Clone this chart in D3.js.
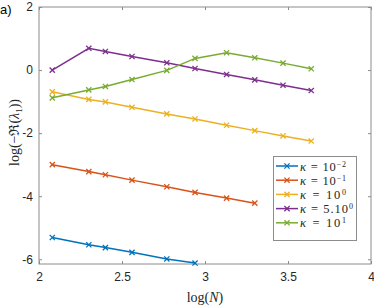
<!DOCTYPE html>
<html>
<head>
<meta charset="utf-8">
<script src="https://cdn.jsdelivr.net/npm/d3@7"></script>
<style>
  body { margin: 0; background: #fff; }
  svg { display: block; }
  .tick text { font-family: "Liberation Sans", Arial, sans-serif; font-size: 12px; fill: #262626; }
  .math { font-family: "Liberation Serif", "DejaVu Serif", serif; fill: #262626; }
</style>
</head>
<body>
<svg id="chart" width="374" height="306"></svg>
<script>
// log(N) sample points
const logN = [2.08, 2.30, 2.40, 2.56, 2.77, 2.94, 3.13, 3.30, 3.47, 3.64]

const kappa1e2 = [-5.31, -5.54, -5.63, -5.78, -5.99, -6.12]
const kappa1e1 = [-3.00, -3.22, -3.32, -3.49, -3.70, -3.88, -4.06, -4.22]
const kappa1e0 = [-0.69, -0.93, -1.01, -1.18, -1.39, -1.55, -1.75, -1.92, -2.09, -2.25]
const kappa5e0 = [0.00, 0.69, 0.59, 0.43, 0.23, 0.05, -0.14, -0.31, -0.48, -0.65]
const kappa1e1b = [-0.88, -0.63, -0.52, -0.30, -0.01, 0.37, 0.55, 0.39, 0.22, 0.04]

const legendBase = ['10', '10', '10', '5.10', '10']
const legendExp = ['−2', '−1', '0', '0', '1']
const colors = ['#0072BD', '#D95319', '#EDB120', '#7E2F8E', '#77AC30']

const xTicks = [2, 2.5, 3, 3.5, 4]
const yTicks = [-6, -4, -2, 0, 2]

const series = [kappa1e2, kappa1e1, kappa1e0, kappa5e0, kappa1e1b].map((vals, i) => ({
  color: colors[i],
  base: legendBase[i],
  exp: legendExp[i],
  points: vals.map((v, j) => [logN[j], v])
}))

const margin = { left: 39, right: 3, top: 7, bottom: 42 }
const width = 374, height = 306
const svg = d3.select('#chart')

const x = d3.scaleLinear().domain([2, 4]).range([margin.left, width - margin.right])
const y = d3.scaleLinear().domain([-6.15, 2]).range([height - margin.bottom, margin.top])

const axisColor = '#8c8c8c'

// tick marks (inward, on all four sides) and labels
svg.append('g')
  .attr('transform', `translate(0,${y(-6.15)})`)
  .call(d3.axisBottom(x).tickValues(xTicks).tickFormat(d3.format('')).tickSizeInner(-3).tickSizeOuter(0).tickPadding(8))
svg.append('g')
  .attr('transform', `translate(${x(2)},0)`)
  .call(d3.axisLeft(y).tickValues(yTicks).tickFormat(d => d < 0 ? '-' + Math.abs(d) : d).tickSizeInner(-3).tickSizeOuter(0).tickPadding(6))
svg.append('g')
  .attr('transform', `translate(0,${y(2)})`)
  .call(d3.axisTop(x).tickValues(xTicks).tickFormat('').tickSizeInner(-3).tickSizeOuter(0))
svg.append('g')
  .attr('transform', `translate(${x(4)},0)`)
  .call(d3.axisRight(y).tickValues(yTicks).tickFormat('').tickSizeInner(-3).tickSizeOuter(0))

svg.selectAll('.domain').remove()
svg.selectAll('.tick line').attr('stroke', axisColor)

// box
svg.append('rect')
  .attr('x', x(2)).attr('y', y(2))
  .attr('width', x(4) - x(2)).attr('height', y(-6.15) - y(2))
  .attr('fill', 'none').attr('stroke', axisColor).attr('stroke-width', 1)

const line = d3.line().x(d => x(d[0])).y(d => y(d[1]))

function cross (g, cx, cy, color) {
  const s = 2.6
  g.append('path')
    .attr('d', `M${cx - s},${cy - s}L${cx + s},${cy + s}M${cx - s},${cy + s}L${cx + s},${cy - s}`)
    .attr('stroke', color).attr('stroke-width', 1.3)
}

series.forEach(s => {
  const g = svg.append('g')
  g.append('path')
    .datum(s.points)
    .attr('d', line)
    .attr('fill', 'none')
    .attr('stroke', s.color)
    .attr('stroke-width', 1.5)
  s.points.forEach(p => cross(g, x(p[0]), y(p[1]), s.color))
})

// legend
const lg = svg.append('g')
lg.append('rect')
  .attr('x', 273.5).attr('y', 156.5).attr('width', 83).attr('height', 84)
  .attr('fill', '#fff').attr('stroke', axisColor).attr('stroke-width', 1)

series.forEach((s, i) => {
  const ry = 166 + i * 14.2
  lg.append('line')
    .attr('x1', 276).attr('x2', 298).attr('y1', ry).attr('y2', ry)
    .attr('stroke', s.color).attr('stroke-width', 1.5)
  cross(lg, 287, ry, s.color)
  const t = lg.append('text').attr('class', 'math')
    .attr('x', 300).attr('y', ry + 4.5).attr('font-size', 12.5)
    .attr('textLength', s.base.length > 2 ? 53 : 46)
  t.append('tspan').attr('font-style', 'italic').text('κ')
  t.append('tspan').text(' = ' + s.base)
  t.append('tspan').attr('font-size', 8).attr('dy', -4).text(s.exp)
})

// labels
svg.append('text').attr('class', 'math')
  .attr('x', x(3)).attr('y', 302)
  .attr('text-anchor', 'middle').attr('font-size', 14)
  .call(t => {
    t.append('tspan').text('log(')
    t.append('tspan').attr('font-style', 'italic').text('N')
    t.append('tspan').text(')')
  })

svg.append('text').attr('class', 'math')
  .attr('transform', `translate(19,${(y(2) + y(-6.15)) / 2 - 3}) rotate(-90)`)
  .attr('text-anchor', 'middle').attr('font-size', 14)
  .call(t => {
    t.append('tspan').text('log(−ℜ(')
    t.append('tspan').attr('font-style', 'italic').text('λ')
    t.append('tspan').attr('font-size', 9).attr('dy', 3).text('1')
    t.append('tspan').attr('dy', -3).text('))')
  })

svg.append('text')
  .attr('x', 0).attr('y', 14)
  .attr('font-family', '"Liberation Sans", Arial, sans-serif')
  .attr('font-size', 13).attr('fill', '#000')
  .text('a)')
</script>
</body>
</html>
